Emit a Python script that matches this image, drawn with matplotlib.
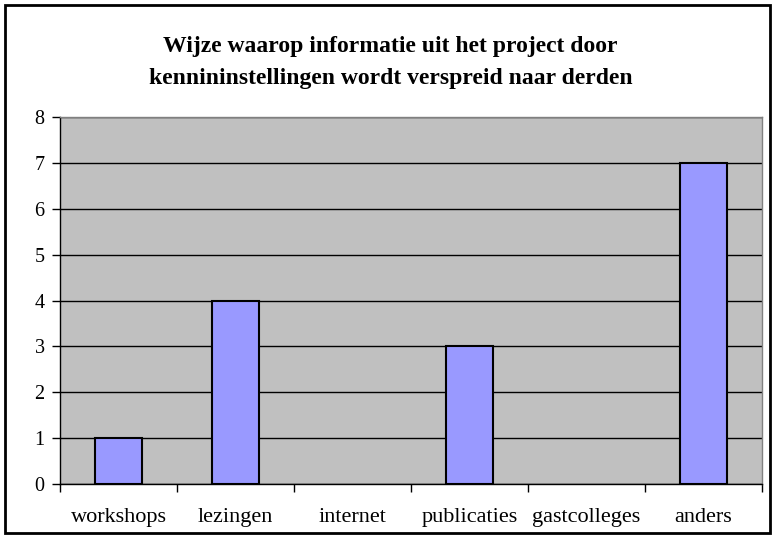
import matplotlib
matplotlib.use("Agg")
import matplotlib.pyplot as plt
from matplotlib.patches import Rectangle

# ── Data ───────────────────────────────────────────────────────────────────
categories = ["workshops", "lezingen", "internet", "publicaties", "gastcolleges", "anders"]
counts     = [1, 4, 0, 3, 0, 7]
y_ticks    = [0, 1, 2, 3, 4, 5, 6, 7, 8]
title      = ("Wijze waarop informatie uit het project door\n"
              "kennininstellingen wordt verspreid naar derden")

plt.rcParams["font.family"] = ["Liberation Serif", "DejaVu Serif"]

fig = plt.figure(figsize=(7.76, 5.36), dpi=100)
ax = fig.add_axes([60 / 776, 52 / 536, 702 / 776, 367 / 536])
ax.set_facecolor("#C0C0C0")

x = list(range(len(categories)))
bars = ax.bar(x, counts, width=0.4, color="#9999FF", edgecolor="black",
              linewidth=1.5, zorder=3)
# empty categories show no bar outline
for b, v in zip(bars, counts):
    if v == 0:
        b.set_visible(False)

ax.set_xlim(-0.5, len(categories) - 0.5)
ax.set_ylim(0, 8)
ax.set_yticks(y_ticks)
ax.set_yticklabels([str(v) for v in y_ticks], fontsize=14.5)
ax.yaxis.grid(True, color="black", linewidth=1.0, zorder=1)
ax.set_axisbelow(True)

# category labels centred, ticks on the boundaries
ax.set_xticks(x)
ax.set_xticklabels(categories, fontsize=16)
ax.tick_params(axis="x", length=0, pad=17)
ax.set_xticks([i - 0.5 for i in range(len(categories) + 1)], minor=True)
ax.tick_params(axis="x", which="minor", length=6, width=1, direction="out")
ax.tick_params(axis="y", length=6, width=1, direction="out", pad=5)

for side in ("top", "right"):
    ax.spines[side].set_color("#808080")
    ax.spines[side].set_linewidth(1)
for side in ("left", "bottom"):
    ax.spines[side].set_color("black")
    ax.spines[side].set_linewidth(1)

fig.text(0.503, 0.884, title, ha="center", va="center", fontsize=17,
         fontweight="bold", linespacing=1.7)

# outer chart border
fig.patches.append(Rectangle((5 / 776, 3 / 536), 765 / 776, 528 / 536,
                             transform=fig.transFigure, fill=False,
                             edgecolor="black", linewidth=2))

fig.savefig("out.png", dpi=100)
